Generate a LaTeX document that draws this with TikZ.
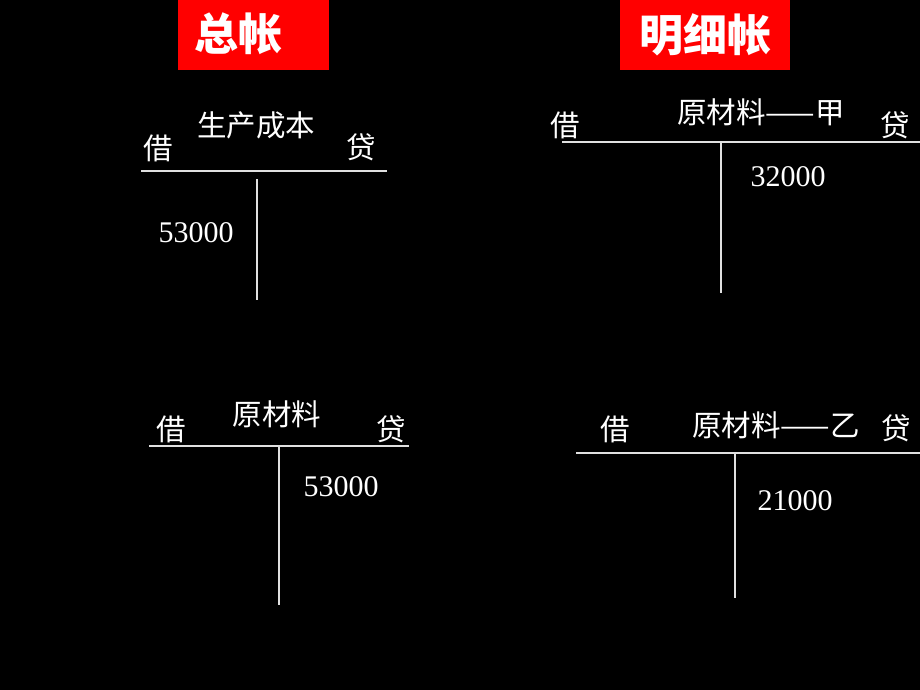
\documentclass[tikz,border=0pt]{standalone}
\usepackage{fontspec}
\setmainfont{Liberation Serif}
\newfontfamily\cjk{Noto Sans CJK SC}
\newfontfamily\cjkbold{Noto Sans CJK SC Black}
\begin{document}
\begin{tikzpicture}[x=1pt,y=-1pt,
  lbl/.style={text=white,font=\cjk\fontsize{29.5}{30}\selectfont,inner sep=0pt,anchor=base},
  num/.style={text=white,font=\fontsize{30}{30}\selectfont,inner sep=0pt,anchor=base},
  hdr/.style={fill=red,inner sep=0pt},
  hdrtext/.style={text=white,font=\cjkbold\fontsize{44}{44}\selectfont,inner sep=0pt,anchor=base},
  tline/.style={draw=white!88!black,line width=1.6pt}]
\fill[black] (0,0) rectangle (920,690);
\useasboundingbox (0,0) rectangle (920,690);
% headers
\node[hdr,minimum width=151pt,minimum height=70pt] (h1) at (253.5,35) {};
\node[hdrtext] (h1t) at (238,51) {总帐};
\node[hdr,minimum width=170pt,minimum height=70pt] (h2) at (705,35) {};
\node[hdrtext] (h2t) at (705,52) {明细帐};
% top-left T account
\draw[tline] (141,171) -- (387,171);
\draw[tline] (257,179) -- (257,300);
\node[lbl] (a1) at (158,159) {借};
\node[lbl] (a2) at (256,136) {生产成本};
\node[lbl] (a3) at (361,158) {贷};
\node[num] (a4) at (196,242) {53000};
% top-right T account
\draw[tline] (562,142) -- (920,142);
\draw[tline] (721,142) -- (721,293);
\node[lbl] (b1) at (565,136) {借};
\node[lbl] (b2) at (761,124) {原材料——甲};
\node[lbl] (b3) at (895,136) {贷};
\node[num] (b4) at (788,186) {32000};
% bottom-left T account
\draw[tline] (149,446) -- (409,446);
\draw[tline] (279,446) -- (279,605);
\node[lbl] (c1) at (171,440) {借};
\node[lbl] (c2) at (277,425) {原材料};
\node[lbl] (c3) at (391,440) {贷};
\node[num] (c4) at (341,496) {53000};
% bottom-right T account
\draw[tline] (576,453) -- (920,453);
\draw[tline] (735,453) -- (735,598);
\node[lbl] (d1) at (615,440) {借};
\node[lbl] (d2) at (776,436) {原材料——乙};
\node[lbl] (d3) at (896,439) {贷};
\node[num] (d4) at (795,510) {21000};
\end{tikzpicture}
\end{document}
